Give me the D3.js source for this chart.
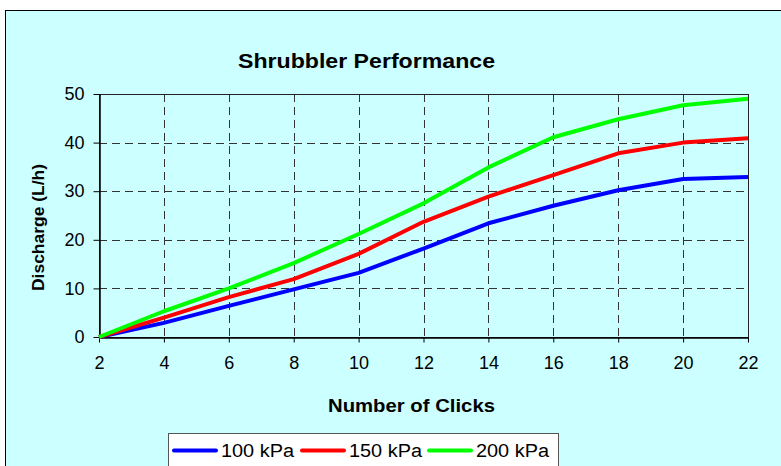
<!DOCTYPE html>
<html><head><meta charset="utf-8">
<script src="https://cdn.jsdelivr.net/npm/d3@7"></script>
<style>
html,body{margin:0;padding:0;background:#fff;}
svg{display:block;font-family:"Liberation Sans",Arial,sans-serif;}
</style></head>
<body>
<svg id="c" width="781" height="466"></svg>
<script>
const clicks = [2,4,6,8,10,12,14,16,18,20,22];
const kpa100 = [0,2.9,6.4,9.8,13.2,18.2,23.4,27.0,30.2,32.5,32.9];
const kpa150 = [0,4.0,8.2,11.9,17.1,23.7,28.9,33.3,37.8,40.0,40.9];
const kpa200 = [0,5.3,10.0,15.2,21.2,27.5,34.9,41.1,44.8,47.7,49.0];
const seriesNames = ["100 kPa","150 kPa","200 kPa"];
const seriesColors = ["#0000FF","#FF0000","#00FF00"];
const xTicks = [2,4,6,8,10,12,14,16,18,20,22];
const yTicks = [0,10,20,30,40,50];

const svg = d3.select("#c");
const L=99, R=748, T=94, B=337;
const x = d3.scaleLinear().domain([2,22]).range([L,R]);
const y = d3.scaleLinear().domain([0,50]).range([B,T]);

// chart area
svg.append("rect").attr("x",5.5).attr("y",10.5).attr("width",800).attr("height",500)
  .attr("fill","#CCFFFF").attr("stroke","#000").attr("stroke-width",1);

// grid
const g = svg.append("g");
g.selectAll(".hg").data(yTicks.slice(1,-1)).join("line")
  .attr("x1",L).attr("x2",R).attr("y1",d=>Math.round(y(d))+0.5).attr("y2",d=>Math.round(y(d))+0.5)
  .attr("stroke","#333").attr("stroke-dasharray","8,5").attr("stroke-width",1);
g.selectAll(".vg").data(xTicks.slice(1,-1)).join("line")
  .attr("y1",T).attr("y2",B).attr("x1",d=>Math.round(x(d))+0.5).attr("x2",d=>Math.round(x(d))+0.5)
  .attr("stroke","#333").attr("stroke-dasharray","8,5").attr("stroke-width",1);

// plot border
svg.append("rect").attr("x",L+0.5).attr("y",T+0.5).attr("width",R-L).attr("height",B-T)
  .attr("fill","none").attr("stroke","#222").attr("stroke-width",1);

// axes
const xAxis = d3.axisBottom(x).tickValues(xTicks).tickSize(5).tickPadding(14).tickSizeOuter(0);
const yAxis = d3.axisLeft(y).tickValues(yTicks).tickSize(6).tickPadding(9).tickSizeOuter(0);
const gx = svg.append("g").attr("transform",`translate(0,${B+0.5})`).call(xAxis);
const gy = svg.append("g").attr("transform",`translate(${L+0.5},0)`).call(yAxis);
[gx,gy].forEach(a=>{
  a.select(".domain").attr("stroke","#000").attr("stroke-width",1.5);
  a.selectAll(".tick line").attr("stroke","#000");
  a.selectAll(".tick text").attr("font-size",18).attr("fill","#000").attr("font-family","Liberation Sans, Arial, sans-serif");
});

// lines
const series = [kpa100,kpa150,kpa200];
const line = d3.line().x((d,i)=>x(clicks[i])).y(d=>y(d));
series.forEach((s,i)=>{
  svg.append("path").datum(s).attr("d",line).attr("fill","none")
    .attr("stroke",seriesColors[i]).attr("stroke-width",4).attr("stroke-linejoin","round");
});

// titles
svg.append("text").attr("x",238).attr("y",68)
  .attr("font-size",20).attr("font-weight","bold")
  .attr("textLength",257).attr("lengthAdjust","spacingAndGlyphs").text("Shrubbler Performance");
svg.append("text").attr("x",328).attr("y",412)
  .attr("font-size",18).attr("font-weight","bold")
  .attr("textLength",167).attr("lengthAdjust","spacingAndGlyphs").text("Number of Clicks");
svg.append("text").attr("transform","translate(44,291) rotate(-90)")
  .attr("font-size",16).attr("font-weight","bold")
  .attr("textLength",127).attr("lengthAdjust","spacingAndGlyphs").text("Discharge (L/h)");

// legend
svg.append("rect").attr("x",168.5).attr("y",433.5).attr("width",390).attr("height",50)
  .attr("fill","#fff").attr("stroke","#555").attr("stroke-width",1);
const lx = [174,302,429];
seriesNames.forEach((n,i)=>{
  svg.append("line").attr("x1",lx[i]).attr("x2",lx[i]+42).attr("y1",450.5).attr("y2",450.5)
    .attr("stroke",seriesColors[i]).attr("stroke-width",4).attr("stroke-linecap","round");
  svg.append("text").attr("x",lx[i]+47).attr("y",457).attr("font-size",18)
    .attr("textLength",73).attr("lengthAdjust","spacingAndGlyphs").text(n);
});
</script>
</body></html>
